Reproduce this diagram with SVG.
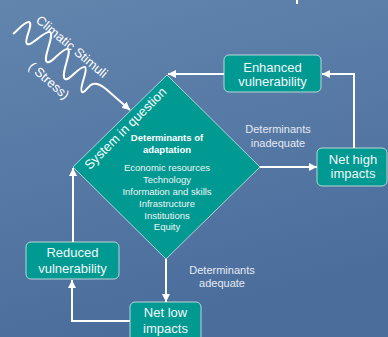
<svg xmlns="http://www.w3.org/2000/svg" width="388" height="337" viewBox="0 0 388 337">
<defs>
<linearGradient id="bg" x1="0" y1="0" x2="0.3" y2="1">
<stop offset="0" stop-color="#6285ae"/>
<stop offset="1" stop-color="#4b6d9c"/>
</linearGradient>
<marker id="ah" markerUnits="userSpaceOnUse" markerWidth="9" markerHeight="8" refX="8" refY="4" orient="auto">
<path d="M0,0 L8,4 L0,8 z" fill="#ffffff"/>
</marker>
</defs>
<style>
.box{fill:#009a93;stroke:#b9d6d6;stroke-width:1}
.dia{fill:#009a93;stroke:#cfe4e4;stroke-width:0.8}
.bt{font-family:"Liberation Sans",Arial,sans-serif;font-size:13px;fill:#f2f6f6;text-anchor:middle}
.lb{font-family:"Liberation Sans",Arial,sans-serif;font-size:11px;fill:#e4eaf2;text-anchor:middle}
.dt{font-family:"Liberation Sans",Arial,sans-serif;font-size:9.5px;fill:#eef4f3;text-anchor:middle}
.db{font-family:"Liberation Sans",Arial,sans-serif;font-size:9.5px;fill:#ffffff;text-anchor:middle;font-weight:bold}
.cs{font-family:"Liberation Sans",Arial,sans-serif;font-size:13px;fill:#ffffff;text-anchor:middle}
.ln{fill:none;stroke:#ffffff;stroke-width:2}
</style>
<rect width="388" height="337" fill="url(#bg)"/>
<rect x="296" y="0" width="2" height="4" fill="#ffffff"/>

<g id="stimuli">
<text class="cs" transform="translate(69,50) rotate(40)">Climatic Stimuli</text>
<text class="cs" transform="translate(46,84) rotate(41)">( Stress)</text>
</g>

<g id="system">
<polygon class="dia" points="167,75 260,167 166,259 73,167"/>
<text class="cs" font-size="14" transform="translate(128.5,131.5) rotate(-45)">System in question</text>
<text class="db" x="167" y="141">Determinants of</text>
<text class="db" x="167" y="152.5">adaptation</text>
<text class="dt" x="167" y="171">Economic resources</text>
<text class="dt" x="167" y="183">Technology</text>
<text class="dt" x="167" y="195">Information and skills</text>
<text class="dt" x="167" y="207">Infrastructure</text>
<text class="dt" x="167" y="218.5">Institutions</text>
<text class="dt" x="167" y="230">Equity</text>
</g>

<g id="enhanced">
<rect class="box" x="224" y="55" width="97" height="37" rx="5"/>
<text class="bt" x="272.5" y="71.5">Enhanced</text>
<text class="bt" x="272.5" y="86">vulnerability</text>
</g>

<g id="nethigh">
<rect class="box" x="317" y="148" width="70" height="38" rx="5"/>
<text class="bt" x="353" y="163.5">Net high</text>
<text class="bt" x="353" y="178">impacts</text>
</g>

<g id="reduced">
<rect class="box" x="26" y="242" width="93" height="37" rx="5"/>
<text class="bt" x="72.5" y="257">Reduced</text>
<text class="bt" x="72.5" y="272.5">vulnerability</text>
</g>

<g id="netlow">
<rect class="box" x="130" y="302" width="71" height="44" rx="5"/>
<text class="bt" x="165.5" y="317">Net low</text>
<text class="bt" x="165.5" y="333">impacts</text>
</g>

<g id="labels">
<text class="lb" x="278" y="132.5">Determinants</text>
<text class="lb" x="278" y="147">inadequate</text>
<text class="lb" x="222" y="273.5">Determinants</text>
<text class="lb" x="222" y="287">adequate</text>
</g>

<g id="connectors">
<path class="ln" d="M13,34 C18,30 25,21 29,22 C34,24 23,41 27,44 C31,47 45,30 50,32 C55,35 42,59 47,62 C51,65 63,47 68,49 C72,52 60,75 65,79 C69,82 80,65 85,67 C89,70 78,89 82,92 C85,94 88,85 93,84 C98,83 102,86 106,89 L130,110" marker-end="url(#ah)"/>
<path class="ln" d="M224,74 L168,74" marker-end="url(#ah)"/>
<path class="ln" d="M354,148 L354,74 L322,74" marker-end="url(#ah)"/>
<path class="ln" d="M260,167 L317,167" marker-end="url(#ah)"/>
<path class="ln" d="M166,259 L166,302" marker-end="url(#ah)"/>
<path class="ln" d="M130,321 L72,321 L72,280" marker-end="url(#ah)"/>
<path class="ln" d="M73,242 L73,168" marker-end="url(#ah)"/>
</g>
</svg>
